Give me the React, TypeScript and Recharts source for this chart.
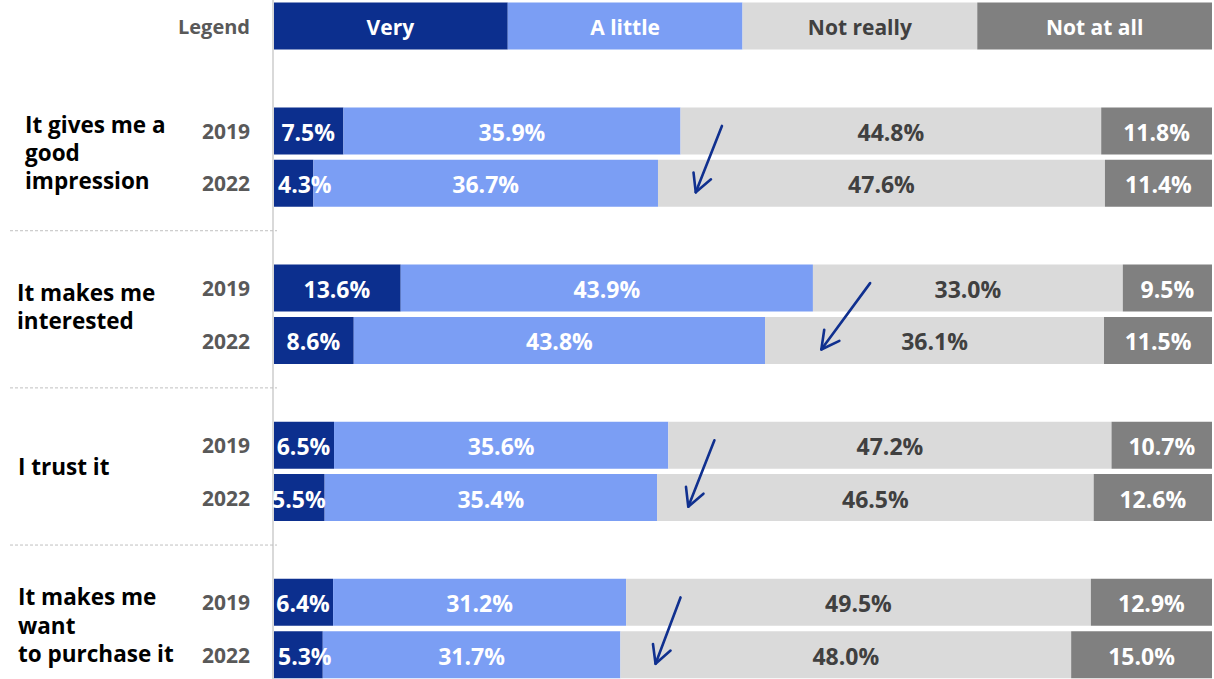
import React from "react";
import { BarChart, Bar, XAxis, YAxis, LabelList, ReferenceLine } from "recharts";

// ---- data ----
const statements = [
  "It gives me a\ngood\nimpression",
  "It makes me\ninterested",
  "I trust it",
  "It makes me\nwant\nto purchase it",
];
const years = ["2019", "2022"];
const legendNames = ["Very", "A little", "Not really", "Not at all"];
const legendShares = [25, 25, 25, 25];

const very2019 = [7.5, 13.6, 6.5, 6.4];
const very2022 = [4.3, 8.6, 5.5, 5.3];
const aLittle2019 = [35.9, 43.9, 35.6, 31.2];
const aLittle2022 = [36.7, 43.8, 35.4, 31.7];
const notReally2019 = [44.8, 33.0, 47.2, 49.5];
const notReally2022 = [47.6, 36.1, 46.5, 48.0];
const notAtAll2019 = [11.8, 9.5, 10.7, 12.9];
const notAtAll2022 = [11.4, 11.5, 12.6, 15.0];

// arrow annotations: x (in %) at the 2019 row and at the 2022 row
const arrowFrom = [47.6, 63.2, 46.8, 43.2];
const arrowTo = [45.4, 59.1, 44.6, 41.1];

// ---- styles / layout ----
const FONT = "'Open Sans', 'Noto Sans', sans-serif";
const C_VERY = "#0c2f8e";
const C_LITTLE = "#7b9ef4";
const C_NOTREALLY = "#dadada";
const C_NOTATALL = "#808080";
const C_ARROW = "#10308f";
const statementX = [25, 17, 18, 18];
const statementDy = [21.5, 18.5, 21, 22.7];

type Row = {
  key: string;
  kind: "legend" | "blank" | "bar";
  sep?: boolean;
  group?: number;
  year?: string;
  very?: number | null;
  aLittle?: number | null;
  notReally?: number | null;
  notAtAll?: number | null;
};

const rows: Row[] = [];
rows.push({
  key: "legend",
  kind: "legend",
  very: legendShares[0],
  aLittle: legendShares[1],
  notReally: legendShares[2],
  notAtAll: legendShares[3],
});
rows.push({ key: "blank-top", kind: "blank", sep: false });
statements.forEach((_, g) => {
  if (g > 0) rows.push({ key: `blank-${g}`, kind: "blank", sep: true });
  rows.push({
    key: `g${g}-${years[0]}`,
    kind: "bar",
    group: g,
    year: years[0],
    very: very2019[g],
    aLittle: aLittle2019[g],
    notReally: notReally2019[g],
    notAtAll: notAtAll2019[g],
  });
  rows.push({
    key: `g${g}-${years[1]}`,
    kind: "bar",
    group: g,
    year: years[1],
    very: very2022[g],
    aLittle: aLittle2022[g],
    notReally: notReally2022[g],
    notAtAll: notAtAll2022[g],
  });
});
const rowByKey: Record<string, Row> = {};
rows.forEach((r) => (rowByKey[r.key] = r));

const YTick = (props: any) => {
  const { y, payload } = props;
  const row = rowByKey[payload?.value];
  if (!row) return null;
  if (row.kind === "legend") {
    return (
      <text x={250} y={y} textAnchor="end" dominantBaseline="central" fill="#595959"
        fontFamily={FONT} fontWeight={700} fontSize={20}>
        Legend
      </text>
    );
  }
  if (row.kind === "blank") {
    if (!row.sep) return null;
    return <line x1={10} x2={277} y1={y - 5} y2={y - 5} stroke="#c0c0c0" strokeWidth={1} strokeDasharray="3 2" />;
  }
  const g = row.group as number;
  const lines = statements[g].split("\n");
  const lh = 28.3;
  const cy = y + statementDy[g];
  return (
    <g>
      <text x={250} y={y} textAnchor="end" dominantBaseline="central" fill="#595959"
        fontFamily={FONT} fontWeight={700} fontSize={21}>
        {row.year}
      </text>
      {row.year === years[0] &&
        lines.map((ln, i) => (
          <text key={i} x={statementX[g]} y={cy + (i - (lines.length - 1) / 2) * lh}
            dominantBaseline="central" fill="#000" fontFamily={FONT} fontWeight={700} fontSize={22.5}>
            {ln}
          </text>
        ))}
    </g>
  );
};

const makeLabel = (seriesIdx: number, color: string) => (props: any) => {
  const { x, y, width, height, value, index } = props;
  if (value == null) return null;
  const isLegend = rows[index]?.kind === "legend";
  const txt = isLegend ? legendNames[seriesIdx] : `${Number(value).toFixed(1)}%`;
  const narrow = !isLegend && width < 51;
  return (
    <text x={narrow ? x + 5 : x + width / 2} y={y + height / 2 + 1} textAnchor={narrow ? "start" : "middle"}
      dominantBaseline="central" fill={color} fontFamily={FONT} fontWeight={700} fontSize={isLegend ? 21 : 23}>
      {txt}
    </text>
  );
};

const ArrowShape = (props: any) => {
  const { x1, y1, x2, y2 } = props;
  if ([x1, y1, x2, y2].some((v) => typeof v !== "number" || isNaN(v))) return null;
  const dx = x2 - x1;
  const dy = y2 - y1;
  const sx = x1 - (dx / dy) * 5;
  const sy = y1 - 5;
  const ex = x2 + (dx / dy) * 9;
  const ey = y2 + 9;
  const ang = Math.atan2(ey - sy, ex - sx);
  const head = 20;
  const spread = (28 * Math.PI) / 180;
  const h1x = ex - head * Math.cos(ang - spread);
  const h1y = ey - head * Math.sin(ang - spread);
  const h2x = ex - head * Math.cos(ang + spread);
  const h2y = ey - head * Math.sin(ang + spread);
  return (
    <g>
      <line x1={sx} y1={sy} x2={ex} y2={ey} stroke={C_ARROW} strokeWidth={2.6} strokeLinecap="round" />
      <polyline points={`${h1x},${h1y} ${ex},${ey} ${h2x},${h2y}`} fill="none" stroke={C_ARROW}
        strokeWidth={2.6} strokeLinejoin="round" strokeLinecap="round" />
    </g>
  );
};

export default function App() {
  return (
    <div style={{ position: "absolute", left: 0, top: 0, width: 1214, height: 679, overflow: "hidden", background: "#fff" }}>
      <BarChart
        width={1214}
        height={681}
        data={rows}
        layout="vertical"
        margin={{ top: 0, right: 2, bottom: 0, left: 0 }}
        barCategoryGap="5%"
      >
        <XAxis type="number" domain={[0, 100]} hide allowDataOverflow />
        <YAxis
          type="category"
          dataKey="key"
          width={273}
          interval={0}
          tickLine={false}
          axisLine={{ stroke: "#d9d9d9", strokeWidth: 2 }}
          tick={<YTick />}
        />
        <Bar dataKey="very" stackId="a" fill={C_VERY} isAnimationActive={false}>
          <LabelList dataKey="very" content={makeLabel(0, "#ffffff")} />
        </Bar>
        <Bar dataKey="aLittle" stackId="a" fill={C_LITTLE} isAnimationActive={false}>
          <LabelList dataKey="aLittle" content={makeLabel(1, "#ffffff")} />
        </Bar>
        <Bar dataKey="notReally" stackId="a" fill={C_NOTREALLY} isAnimationActive={false}>
          <LabelList dataKey="notReally" content={makeLabel(2, "#404040")} />
        </Bar>
        <Bar dataKey="notAtAll" stackId="a" fill={C_NOTATALL} isAnimationActive={false}>
          <LabelList dataKey="notAtAll" content={makeLabel(3, "#ffffff")} />
        </Bar>
        {statements.map((_, g) => (
          <ReferenceLine
            key={`arrow-${g}`}
            segment={[
              { x: arrowFrom[g], y: `g${g}-${years[0]}` },
              { x: arrowTo[g], y: `g${g}-${years[1]}` },
            ]}
            ifOverflow="visible"
            shape={(p: any) => <ArrowShape {...p} />}
          />
        ))}
      </BarChart>
    </div>
  );
}
